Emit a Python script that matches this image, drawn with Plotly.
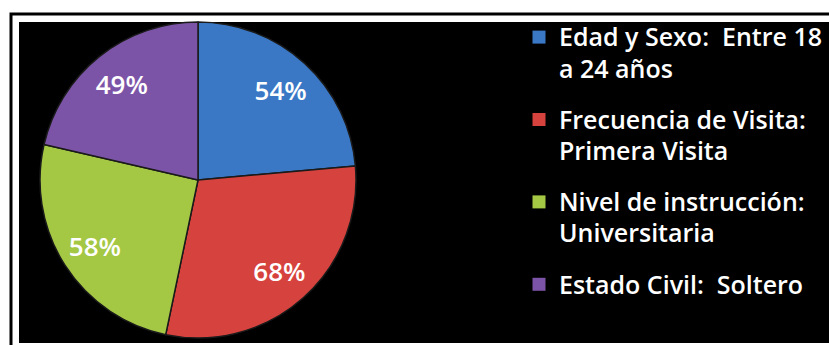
import plotly.graph_objects as go

# ---- data ----
categories = [
    "Edad y Sexo:\u00a0 Entre 18<br>a 24 años",
    "Frecuencia de Visita:<br>Primera Visita",
    "Nivel de instrucción:<br>Universitaria",
    "Estado Civil:\u00a0 Soltero",
]
values = [54, 68, 58, 49]
value_labels = ["54%", "68%", "58%", "49%"]
colors = ["#3a78c6", "#d6423d", "#a4c744", "#7c54a7"]

W, H = 829, 345
LEG_FONT = 24
TXT_FONT = 25


def px_x(v):
    return v / W


def px_y(v):
    return 1 - v / H


cx, cy, r = 198, 180, 158
dom = dict(x=[px_x(cx - r), px_x(cx + r)], y=[px_y(cy + r), px_y(cy - r)])

fig = go.Figure()

# full pie (slices + outlines)
fig.add_trace(go.Pie(
    labels=categories, values=values, sort=False, direction="clockwise", rotation=0,
    textinfo="none", marker=dict(colors=colors, line=dict(color="#1a1a1a", width=1.5)),
    hoverinfo="skip", showlegend=False, domain=dom,
))
# transparent ring with the same slices, only to carry the percentage labels further out
fig.add_trace(go.Pie(
    labels=categories, values=values, sort=False, direction="clockwise", rotation=0,
    hole=0.55, text=value_labels, textinfo="text", textposition="inside",
    insidetextorientation="horizontal",
    textfont=dict(family="Open Sans", size=26, color="white", weight=600),
    marker=dict(colors=["rgba(0,0,0,0)"] * len(values), line=dict(width=0)),
    hoverinfo="skip", showlegend=False, domain=dom,
))

# legend entries
for i, (c, col) in enumerate(zip(categories, colors)):
    fig.add_trace(go.Scatter(
        x=[None], y=[None], mode="markers",
        marker=dict(symbol="square", size=13, color=col),
        name=f"<span style='font-size:{TXT_FONT}px'>{c}</span>",
        legendgroup=f"g{i}", showlegend=True, hoverinfo="skip",
    ))

fig.update_layout(
    width=W,
    height=H,
    margin=dict(l=0, r=0, t=0, b=0),
    paper_bgcolor="white",
    plot_bgcolor="rgba(0,0,0,0)",
    xaxis=dict(visible=False),
    yaxis=dict(visible=False),
    showlegend=True,
    legend=dict(
        x=px_x(519),
        y=px_y(15),
        xanchor="left",
        yanchor="top",
        valign="top",
        bgcolor="rgba(0,0,0,0)",
        font=dict(family="Open Sans", size=LEG_FONT, color="white", weight=600),
        tracegroupgap=17,
        traceorder="grouped",
    ),
    shapes=[
        dict(type="rect", xref="paper", yref="paper", layer="below",
             x0=px_x(11), x1=px_x(W + 10), y0=px_y(H + 10), y1=px_y(14),
             line=dict(color="black", width=3), fillcolor="white"),
        dict(type="rect", xref="paper", yref="paper", layer="below",
             x0=px_x(19), x1=px_x(W + 10), y0=px_y(343), y1=px_y(22),
             line=dict(width=0), fillcolor="black"),
    ],
)

fig.write_html(
    "out.html",
    config={"displayModeBar": False},
    post_script="document.body.style.margin='0';",
)
